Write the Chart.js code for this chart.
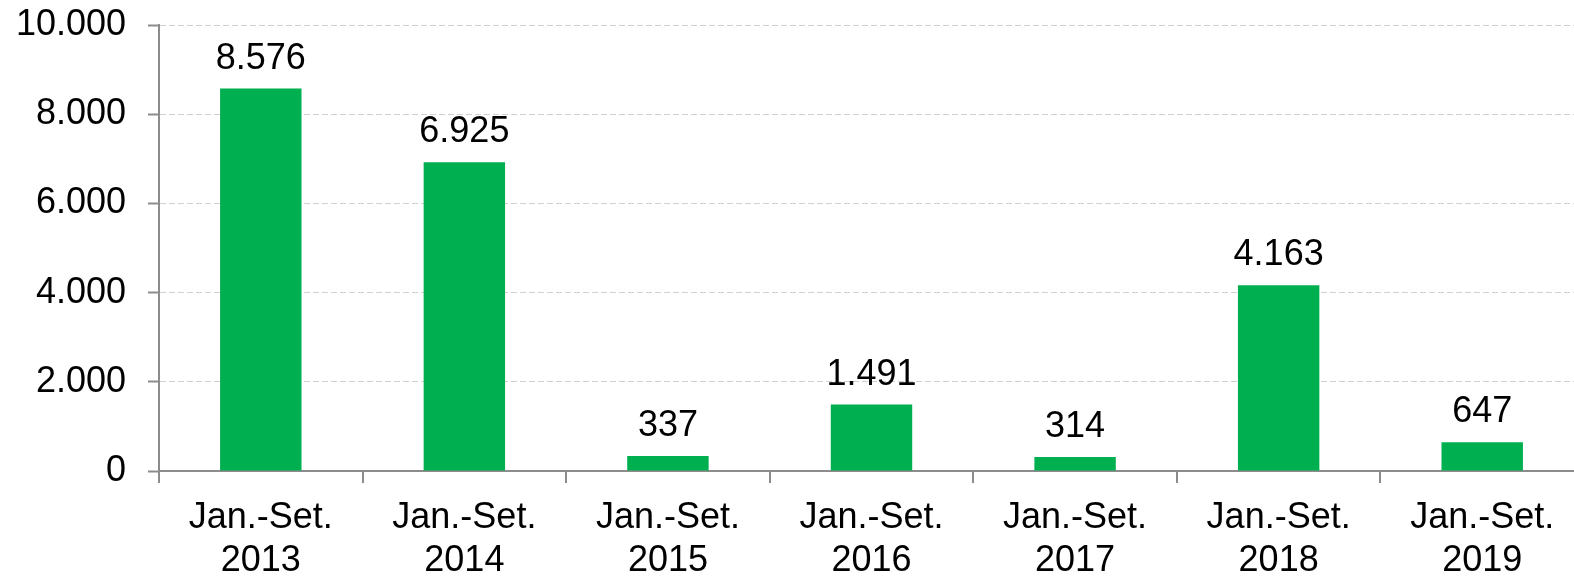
<!DOCTYPE html>
<html>
<head>
<meta charset="utf-8">
<script src="https://cdn.jsdelivr.net/npm/chart.js@4.4.1/dist/chart.umd.min.js"></script>
<style>
  html, body { margin: 0; padding: 0; background: #fff; overflow: hidden; }
  #wrap { width: 1584px; height: 576px; position: relative; }
</style>
</head>
<body>
<div id="wrap"><canvas id="c" width="1584" height="576"></canvas></div>
<script>
const categories = [
  ["Jan.-Set.", "2013"],
  ["Jan.-Set.", "2014"],
  ["Jan.-Set.", "2015"],
  ["Jan.-Set.", "2016"],
  ["Jan.-Set.", "2017"],
  ["Jan.-Set.", "2018"],
  ["Jan.-Set.", "2019"]
];
const values = [8576, 6925, 337, 1491, 314, 4163, 647];
const yMin = 0, yMax = 10000, yStep = 2000;

const FONT = "'Liberation Sans', Arial, sans-serif";
const AXIS = '#8c8c8c';

function fmt(v) {
  return String(Math.round(v)).replace(/\B(?=(\d{3})+(?!\d))/g, '.');
}

const dataLabels = {
  id: 'dataLabels',
  afterDatasetsDraw(chart) {
    const ctx = chart.ctx;
    const meta = chart.getDatasetMeta(0);
    ctx.save();
    ctx.font = '36px ' + FONT;
    ctx.fillStyle = '#000';
    ctx.textAlign = 'center';
    ctx.textBaseline = 'alphabetic';
    meta.data.forEach((bar, i) => {
      ctx.fillText(fmt(values[i]), bar.x, bar.y - 20);
    });
    ctx.restore();
  }
};

new Chart(document.getElementById('c'), {
  type: 'bar',
  data: {
    labels: categories,
    datasets: [{
      data: values,
      backgroundColor: '#00B050',
      borderWidth: 0,
      barPercentage: 0.4,
      categoryPercentage: 1.0
    }]
  },
  options: {
    responsive: false,
    animation: false,
    layout: { padding: { top: 25, left: 0, right: 0, bottom: 0 } },
    plugins: { legend: { display: false }, tooltip: { enabled: false } },
    scales: {
      x: {
        grid: {
          offset: true,
          drawOnChartArea: false,
          drawTicks: true,
          tickLength: 12,
          color: AXIS,
          tickColor: AXIS,
          lineWidth: 2
        },
        border: { display: true, color: AXIS, width: 2 },
        ticks: {
          color: '#000',
          font: { family: FONT, size: 36, lineHeight: 1.2 },
          padding: 13,
          maxRotation: 0,
          autoSkip: false
        },
        afterFit(scale) { scale.height = 105; scale.paddingLeft = 0; scale.paddingRight = 0; }
      },
      y: {
        min: yMin,
        max: yMax,
        grid: {
          drawTicks: true,
          tickLength: 11,
          tickColor: AXIS,
          tickWidth: 2,
          tickBorderDash: [],
          color: (c) => (c.tick && c.tick.value === 0) ? 'rgba(0,0,0,0)' : '#d0d0d0',
          lineWidth: 1
        },
        border: { display: true, color: AXIS, width: 2, dash: [6, 3] },
        ticks: {
          stepSize: yStep,
          color: '#000',
          font: { family: FONT, size: 36 },
          padding: 22,
          callback: (v) => fmt(v)
        },
        afterFit(scale) { scale.width = 159; scale.paddingTop = 0; scale.paddingBottom = 0; }
      }
    }
  },
  plugins: [dataLabels]
});
</script>
</body>
</html>
